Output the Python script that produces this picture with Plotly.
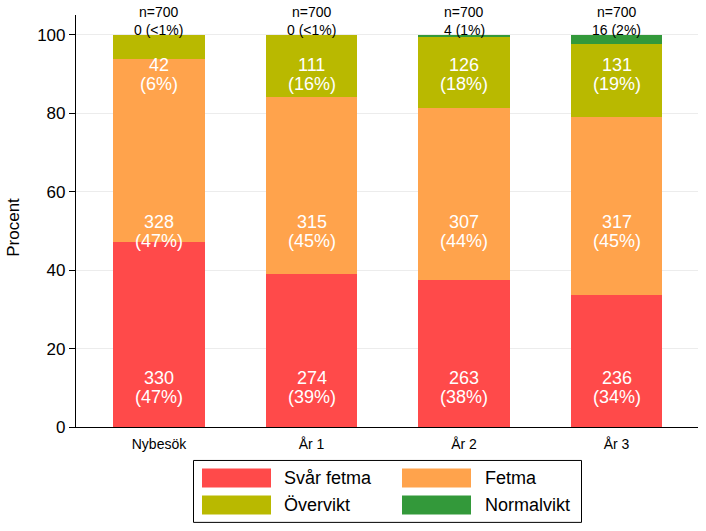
import plotly.graph_objects as go

categories = ["Nybesök", "År 1", "År 2", "År 3"]
series_names = ["Svår fetma", "Fetma", "Övervikt", "Normalvikt"]
svar_fetma = [330, 274, 263, 236]
fetma = [328, 315, 307, 317]
overvikt = [42, 111, 126, 131]
normalvikt = [0, 0, 4, 16]
totals = [700, 700, 700, 700]
pct_labels_top = ["<1%", "<1%", "1%", "2%"]
label_levels = [10, 50, 90]  # fixed label heights (percent) for the three lower layers

colors = ["#FF4A4A", "#FFA34C", "#B9B900", "#33993A"]
FONT = "Liberation Sans, Arial, sans-serif"

W, H = 706, 531
# plot area in screen pixels: x 76..698, y 15..427.5
ML = 76
MR = W - 698
MT = 15
MB = H - 427.5
PW, PH = W - ML - MR, H - MT - MB

def px(x):  # screen x -> paper
    return (x - ML) / PW

def py(y):  # screen y -> paper
    return (H - MB - y) / PH

all_series = [svar_fetma, fetma, overvikt, normalvikt]
xs = list(range(len(categories)))

fig = go.Figure()
for name, vals, col in zip(series_names, all_series, colors):
    pcts = [v / t * 100 for v, t in zip(vals, totals)]
    fig.add_trace(go.Bar(x=xs, y=pcts, name=name, marker=dict(color=col, line=dict(width=0)),
                         width=0.6, showlegend=False, hoverinfo="skip"))

annotations = []
# in-bar labels
for lvl, vals in zip(label_levels, all_series[:3]):
    for i, (v, t) in enumerate(zip(vals, totals)):
        p = round(v / t * 100)
        annotations.append(dict(x=xs[i], y=lvl, xref="x", yref="y", text=str(v), showarrow=False,
                                yshift=9.5, font=dict(family=FONT, size=18, color="white")))
        annotations.append(dict(x=xs[i], y=lvl, xref="x", yref="y", text=f"({p}%)", showarrow=False,
                                yshift=-9.5, font=dict(family=FONT, size=18, color="white")))
# top labels
for i, (v, t, pl) in enumerate(zip(normalvikt, totals, pct_labels_top)):
    annotations.append(dict(x=xs[i], y=100, xref="x", yref="y", text=f"{v} ({pl})", showarrow=False,
                            yshift=4.5, font=dict(family=FONT, size=14, color="black")))
    annotations.append(dict(x=xs[i], y=100, xref="x", yref="y", text=f"n={t}", showarrow=False,
                            yshift=23, font=dict(family=FONT, size=14, color="black")))

# y-axis title as annotation
annotations.append(dict(x=px(14), y=py(228), xref="paper", yref="paper", text="Procent", textangle=-90,
                        xanchor="center", yanchor="middle",
                        showarrow=False, font=dict(family=FONT, size=17, color="black")))

# custom legend
shapes = [dict(type="rect", xref="paper", yref="paper", x0=px(193.5), x1=px(581.5), y0=py(523), y1=py(461),
               line=dict(color="black", width=1), fillcolor="white", layer="above")]
sw_x = [202, 402]
tx_x = [282, 483]
sw_y = [469, 496]
for k, (name, col) in enumerate(zip(series_names, colors)):
    r, c = divmod(k, 2)
    shapes.append(dict(type="rect", xref="paper", yref="paper", x0=px(sw_x[c]), x1=px(sw_x[c] + 69),
                       y0=py(sw_y[r] + 19), y1=py(sw_y[r]), line=dict(width=0), fillcolor=col, layer="above"))
    annotations.append(dict(x=px(tx_x[c]), y=py(sw_y[r] + 9.5), xref="paper", yref="paper", text=name,
                            showarrow=False, xanchor="left", yanchor="middle",
                            font=dict(family=FONT, size=18, color="black")))

fig.update_layout(
    barmode="stack",
    width=W, height=H,
    margin=dict(l=ML, r=MR, t=MT, b=MB, autoexpand=False),
    paper_bgcolor="white", plot_bgcolor="white",
    font=dict(family=FONT, color="black"),
    annotations=annotations,
    shapes=shapes,
    showlegend=False,
    xaxis=dict(range=[-0.544, 3.534], tickvals=xs, ticktext=categories, ticks="",
               showline=True, linecolor="black", linewidth=1.2, showgrid=False, zeroline=False,
               automargin=False, ticklabelstandoff=4,
               tickfont=dict(family=FONT, size=14, color="black")),
    yaxis=dict(range=[0, 105.1], tickvals=[0, 20, 40, 60, 80, 100], ticks="outside", ticklen=6,
               tickcolor="black", showline=True, linecolor="black", linewidth=1.2,
               showgrid=True, gridcolor="#ECECEC", gridwidth=1, zeroline=False, automargin=False,
               tickfont=dict(family=FONT, size=17, color="black")),
)

fig.write_html("out.html", config={"displayModeBar": False},
               post_script="document.body.style.margin='0px';")
